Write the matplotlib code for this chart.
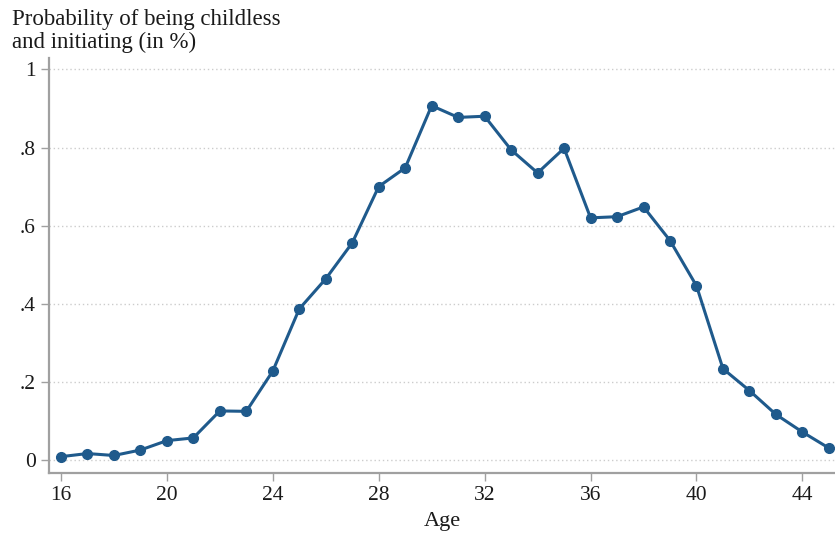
import matplotlib
matplotlib.use("Agg")
import matplotlib.pyplot as plt

# Share of women who are childless and initiating, by age
ages = [16, 17, 18, 19, 20, 21, 22, 23, 24, 25, 26, 27, 28, 29, 30,
        31, 32, 33, 34, 35, 36, 37, 38, 39, 40, 41, 42, 43, 44, 45]
prob = [0.009, 0.017, 0.012, 0.026, 0.050, 0.057, 0.126, 0.125, 0.228, 0.387,
        0.464, 0.556, 0.700, 0.748, 0.907, 0.877, 0.880, 0.794, 0.735, 0.798,
        0.620, 0.623, 0.648, 0.562, 0.446, 0.234, 0.178, 0.117, 0.072, 0.031]

x_ticks = [16, 20, 24, 28, 32, 36, 40, 44]
y_ticks = [0, 0.2, 0.4, 0.6, 0.8, 1.0]
y_tick_labels = ["0", ".2", ".4", ".6", ".8", "1"]

plt.rcParams["font.family"] = ["Liberation Serif", "DejaVu Serif"]

line_color = "#1f5a8c"
axis_gray = "#a0a0a0"
text_color = "#1a1a1a"

fig = plt.figure(figsize=(8.35, 5.37), dpi=100)
ax = fig.add_axes([49 / 835, 1 - 472.5 / 537, 1 - 49 / 835, (472.5 - 58) / 537])

ax.plot(ages, prob, color=line_color, linewidth=2.2, marker="o",
        markersize=7.0, markerfacecolor=line_color, markeredgecolor=line_color,
        zorder=3, clip_on=False)

ax.set_xlim(15.55, 45.23)
ax.set_ylim(-0.0315, 1.029)

ax.set_xticks(x_ticks)
ax.set_xticklabels([str(t) for t in x_ticks])
ax.set_yticks(y_ticks)
ax.set_yticklabels(y_tick_labels)

ax.grid(axis="y", color="#cccccc", linestyle=(0, (1, 2)), linewidth=1.0)
ax.grid(axis="x", visible=False)
ax.set_axisbelow(True)

for side in ("top", "right"):
    ax.spines[side].set_visible(False)
for side in ("left", "bottom"):
    ax.spines[side].set_color(axis_gray)
    ax.spines[side].set_linewidth(1.6)

ax.tick_params(axis="both", colors=axis_gray, labelcolor=text_color,
               labelsize=15.5, length=5.5, width=1.0, pad=4)
ax.tick_params(axis="x", pad=4.5)

ax.set_xlabel("Age", fontsize=16, color=text_color, labelpad=5)

fig.text(12 / 835, 1 - 9 / 537,
         "Probability of being childless\nand initiating (in %)",
         ha="left", va="top", fontsize=16.5, color=text_color, linespacing=1.1)

fig.savefig("out.png", dpi=100, facecolor="white")
